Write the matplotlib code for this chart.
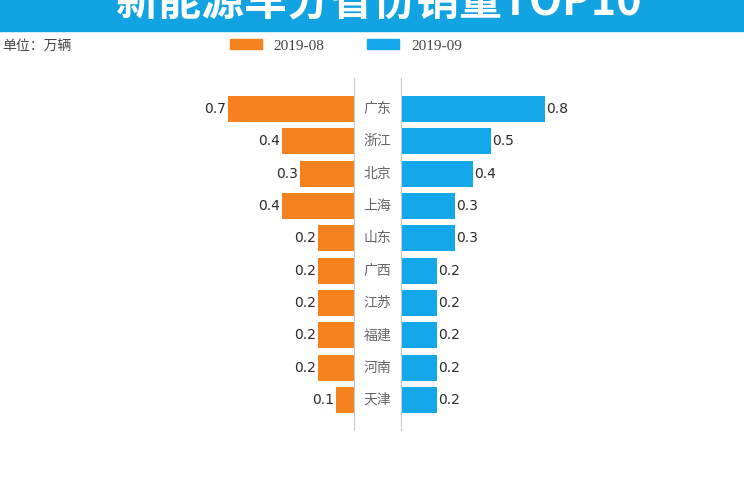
import matplotlib.pyplot as plt
from matplotlib.patches import Patch

plt.rcParams['font.family'] = ['Noto Sans CJK SC', 'DejaVu Sans']

# data (万辆)
provinces = ['广东', '浙江', '北京', '上海', '山东', '广西', '江苏', '福建', '河南', '天津']
aug = [0.7, 0.4, 0.3, 0.4, 0.2, 0.2, 0.2, 0.2, 0.2, 0.1]
sep = [0.8, 0.5, 0.4, 0.3, 0.3, 0.2, 0.2, 0.2, 0.2, 0.2]
labels = ['2019-08', '2019-09']
title = '新能源车分省份销量TOP10'
unit = '单位：万辆'

orange = '#F5821F'
blue = '#12A8EA'
band = '#12A3E3'

W, H = 744, 498
fig = plt.figure(figsize=(W / 100, H / 100), dpi=100)

# title band
fig.patches.append(plt.Rectangle((0, 1 - 31 / H), 1, 31 / H, transform=fig.transFigure,
                                 color=band, zorder=0))
fig.text(0.51, 1 - 2 / H, title, ha='center', va='center', color='white',
         fontsize=31, fontweight='bold')

fig.text(2 / W, 1 - 47 / H, unit, ha='left', va='center', fontsize=10, color='#444444')

# axes placement in pixels
top, bottom = 78, 430
ax_b = 1 - bottom / H
ax_h = (bottom - top) / H
scale = 180  # px per unit
axL = fig.add_axes([(354 - scale) / W, ax_b, scale / W, ax_h])
axR = fig.add_axes([401 / W, ax_b, scale / W, ax_h])

y = list(range(len(provinces)))
axL.barh(y, aug, height=0.8, color=orange)
axR.barh(y, sep, height=0.8, color=blue)

for ax in (axL, axR):
    ax.set_ylim(9.93, -0.96)
    ax.set_xticks([])
    ax.set_yticks([])
    for s in ax.spines.values():
        s.set_visible(False)
axL.set_xlim(1.0, 0)
axR.set_xlim(0, 1.0)
axL.spines['right'].set_visible(True)
axR.spines['left'].set_visible(True)
axL.spines['right'].set_color('#c8c8c8')
axR.spines['left'].set_color('#c8c8c8')

for i, v in enumerate(aug):
    axL.annotate(f'{v:.1f}', (v, i), xytext=(-1.5, 0), textcoords='offset points',
                 ha='right', va='center', fontsize=10, color='#2a2a2a',
                 family='DejaVu Sans')
for i, v in enumerate(sep):
    axR.annotate(f'{v:.1f}', (v, i), xytext=(1, 0), textcoords='offset points',
                 ha='left', va='center', fontsize=10, color='#2a2a2a',
                 family='DejaVu Sans')

for i, p in enumerate(provinces):
    axR.annotate(p, (0, i), xytext=(-23.5 / 100 * 72, 0), textcoords='offset points',
                 ha='center', va='center', fontsize=10, color='#666666',
                 annotation_clip=False)

handles = [Patch(color=orange, label=labels[0]), Patch(color=blue, label=labels[1])]
fig.legend(handles=handles, loc='center', bbox_to_anchor=(346 / W, 1 - 46 / H), ncol=2,
           frameon=False, handlelength=2.05, handleheight=0.6, handletextpad=0.8,
           columnspacing=2.8, prop={'family': 'Liberation Serif', 'size': 11},
           labelcolor='#444444')

fig.savefig('out.png', dpi=100)
